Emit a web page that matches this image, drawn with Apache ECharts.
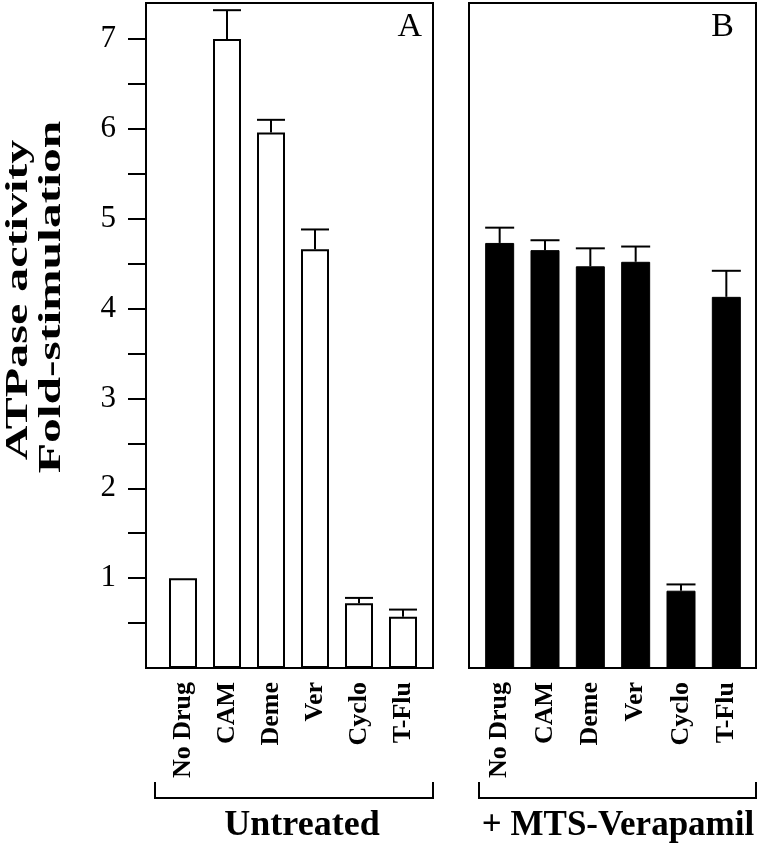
<!DOCTYPE html>
<html><head><meta charset="utf-8">
<script src="https://cdn.jsdelivr.net/npm/echarts@6/dist/echarts.min.js"></script>
<style>html,body{margin:0;padding:0;background:#fff}#c{width:764px;height:844px}</style>
</head><body><div id="c"></div>
<script>
const categories = ['No Drug', 'CAM', 'Deme', 'Ver', 'Cyclo', 'T-Flu'];
const untreatedValues = [1.0, 7.0, 5.96, 4.66, 0.72, 0.57];
const untreatedErrors = [0, 0.32, 0.14, 0.22, 0.06, 0.08];
const mtsValues = [4.73, 4.65, 4.47, 4.52, 0.86, 4.13];
const mtsErrors = [0.17, 0.11, 0.20, 0.17, 0.07, 0.29];
const yTickValues = [0.5, 1, 1.5, 2, 2.5, 3, 3.5, 4, 4.5, 5, 5.5, 6, 6.5, 7];
const yLabelValues = [1, 2, 3, 4, 5, 6, 7];
const panelTitles = ['A', 'B'];
const groupLabels = ['Untreated', '+ MTS-Verapamil'];
const yTitleLines = ['ATPase activity', 'Fold-stimulation'];

const FF = '"Liberation Serif", "Times New Roman", serif';
const Y_MIN = 0, Y_MAX = 7.4;
const chart = echarts.init(document.getElementById('c'), null, {renderer: 'canvas'});

function errRender(barW) {
  return function (params, api) {
    const v = api.value(1), e = api.value(2);
    if (!e) return null;
    const base = api.coord([api.value(0), v]);
    const top = api.coord([api.value(0), v + e]);
    return {
      type: 'group', children: [
        {type: 'line', shape: {x1: base[0], y1: base[1], x2: top[0], y2: top[1]}, style: {stroke: '#000', lineWidth: 2}},
        {type: 'line', shape: {x1: top[0] - barW / 2, y1: top[1], x2: top[0] + barW / 2, y2: top[1]}, style: {stroke: '#000', lineWidth: 2}}
      ]
    };
  };
}

const catAxis = (gi) => ({
  gridIndex: gi, type: 'category', data: categories,
  axisLine: {show: false}, axisTick: {show: false},
  axisLabel: {interval: 0, rotate: 90, margin: 14, fontFamily: FF, fontWeight: 'bold', fontSize: 26, color: '#000'}
});
const hiddenY = (gi) => ({gridIndex: gi, type: 'value', min: Y_MIN, max: Y_MAX, show: false});

const option = {
  animation: false,
  backgroundColor: '#fff',
  grid: [
    {left: 146, top: 3, width: 287, height: 665, show: true, borderColor: '#000', borderWidth: 2, backgroundColor: 'transparent'},
    {left: 161, top: 3, width: 264, height: 665},
    {left: 469, top: 3, width: 287, height: 665, show: true, borderColor: '#000', borderWidth: 2, backgroundColor: 'transparent'},
    {left: 477, top: 3, width: 272, height: 665}
  ],
  xAxis: [
    {gridIndex: 0, type: 'value', show: false},
    catAxis(1),
    {gridIndex: 2, type: 'value', show: false},
    catAxis(3)
  ],
  yAxis: [
    {
      gridIndex: 0, type: 'value', min: Y_MIN, max: Y_MAX, interval: 1,
      splitLine: {show: false}, axisLine: {show: false},
      axisTick: {show: true, inside: false, length: 18, lineStyle: {color: '#000', width: 2}, customValues: yTickValues},
      axisLabel: {customValues: yLabelValues, fontFamily: FF, fontSize: 31, color: '#000', margin: 30}
    },
    hiddenY(1), hiddenY(2), hiddenY(3)
  ],
  series: [
    {type: 'bar', xAxisIndex: 1, yAxisIndex: 1, data: untreatedValues, barWidth: 28,
      itemStyle: {color: '#fff', borderColor: '#000', borderWidth: 2}},
    {type: 'custom', xAxisIndex: 1, yAxisIndex: 1, z: 5, renderItem: errRender(28),
      data: categories.map((c, i) => [i, untreatedValues[i], untreatedErrors[i]])},
    {type: 'bar', xAxisIndex: 3, yAxisIndex: 3, data: mtsValues, barWidth: 29,
      itemStyle: {color: '#000', borderColor: '#000', borderWidth: 1}},
    {type: 'custom', xAxisIndex: 3, yAxisIndex: 3, z: 5, renderItem: errRender(29),
      data: categories.map((c, i) => [i, mtsValues[i], mtsErrors[i]])}
  ],
  graphic: [
    {type: 'text', x: 422, y: 27, style: {text: panelTitles[0], font: '34px ' + FF, fill: '#000', textAlign: 'right', textVerticalAlign: 'middle'}},
    {type: 'text', x: 734, y: 27, style: {text: panelTitles[1], font: '34px ' + FF, fill: '#000', textAlign: 'right', textVerticalAlign: 'middle'}},
    {type: 'polyline', shape: {points: [[155, 782], [155, 798], [433, 798], [433, 782]]}, style: {stroke: '#000', lineWidth: 2, fill: null}},
    {type: 'polyline', shape: {points: [[479, 782], [479, 798], [756, 798], [756, 782]]}, style: {stroke: '#000', lineWidth: 2, fill: null}},
    {type: 'text', x: 302, y: 826, style: {text: groupLabels[0], font: 'bold 36px ' + FF, fill: '#000', textAlign: 'center', textVerticalAlign: 'middle'}},
    {type: 'text', x: 618, y: 826, style: {text: groupLabels[1], font: 'bold 35px ' + FF, fill: '#000', textAlign: 'center', textVerticalAlign: 'middle'}},
    {type: 'text', x: 19, y: 300, rotation: Math.PI / 2, scaleX: 1.55, style: {text: yTitleLines[0], font: 'bold 31px ' + FF, fill: '#000', textAlign: 'center', textVerticalAlign: 'middle'}},
    {type: 'text', x: 52, y: 297, rotation: Math.PI / 2, scaleX: 1.6, style: {text: yTitleLines[1], font: 'bold 31px ' + FF, fill: '#000', textAlign: 'center', textVerticalAlign: 'middle'}}
  ]
};
chart.setOption(option);
</script>
</body></html>
